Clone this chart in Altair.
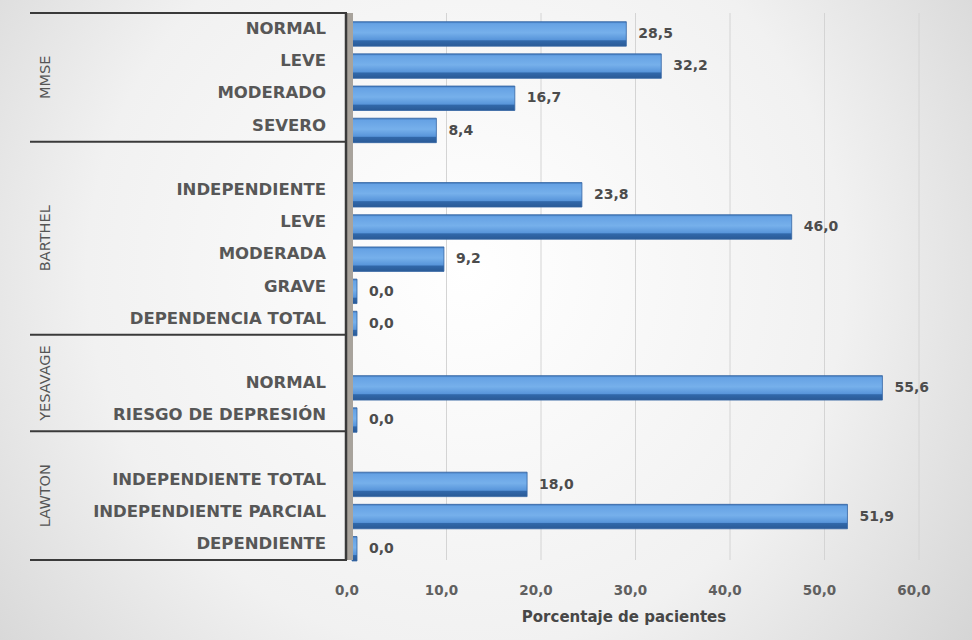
import altair as alt
import pandas as pd

groups = ["MMSE", "BARTHEL", "YESAVAGE", "LAWTON"]
categories = [
    ["NORMAL", "LEVE", "MODERADO", "SEVERO"],
    ["INDEPENDIENTE", "LEVE", "MODERADA", "GRAVE", "DEPENDENCIA TOTAL"],
    ["NORMAL", "RIESGO DE DEPRESIÓN"],
    ["INDEPENDIENTE TOTAL", "INDEPENDIENTE PARCIAL", "DEPENDIENTE"],
]
values = [
    [28.5, 32.2, 16.7, 8.4],
    [23.8, 46.0, 9.2, 0.0, 0.0],
    [55.6, 0.0],
    [18.0, 51.9, 0.0],
]
x_ticks = [0, 10, 20, 30, 40, 50, 60]
x_title = "Porcentaje de pacientes"

# build row structure (a blank row precedes every group but the first)
rows, grp_rows, bounds = [], [], []
r = 0
for gi, g in enumerate(groups):
    start = r - 0.5
    if gi > 0:
        r += 1
    for c, v in zip(categories[gi], values[gi]):
        rows.append({"group": g, "cat": c, "val": v, "row": r})
        r += 1
    end = r - 0.5
    grp_rows.append({"group": g, "center": (start + end) / 2})
    bounds.append({"b": start})
bounds.append({"b": r - 0.5})
nrows = r

df = pd.DataFrame(rows)
gdf = pd.DataFrame(grp_rows)
bdf = pd.DataFrame(bounds)
tdf = pd.DataFrame({"t": x_ticks})

W, H = 567, 547
FONT = "DejaVu Sans"

xscale = alt.Scale(domain=[0, 60], nice=False)
yscale = alt.Scale(domain=[-0.5, nrows - 0.5], reverse=True)
one = pd.DataFrame({"a": [1]})

bg = alt.Chart(one).mark_rect(
    fill={
        "gradient": "radial",
        "x1": 0.48, "y1": 0.45, "r1": 0.0,
        "x2": 0.48, "y2": 0.45, "r2": 0.78,
        "stops": [
            {"offset": 0.0, "color": "#ffffff"},
            {"offset": 0.5, "color": "#f1f1f1"},
            {"offset": 1.0, "color": "#c6c6c6"},
        ],
    }
).encode(
    x=alt.value(-352), x2=alt.value(620), y=alt.value(-13), y2=alt.value(627)
)

grid = alt.Chart(tdf).transform_filter("datum.t > 0").mark_rule(
    color="#d4d4d4", strokeWidth=1
).encode(
    x=alt.X("t:Q", scale=xscale, axis=None), y=alt.value(0), y2=alt.value(H)
)

ticklabels = alt.Chart(tdf).transform_calculate(
    lab="replace(format(datum.t, '.1f'), '.', ',')"
).mark_text(
    align="center", baseline="middle", dx=-5,
    font=FONT, fontSize=13.5, fontWeight="bold", color="#606060",
).encode(
    x=alt.X("t:Q", scale=xscale, axis=None), y=alt.value(H + 31), text="lab:N"
)

xtitle = alt.Chart(one).mark_text(
    align="center", baseline="middle",
    font=FONT, fontSize=15, fontWeight="bold", color="#474747",
    text=x_title,
).encode(x=alt.value(272), y=alt.value(H + 57))

wall = alt.Chart(one).mark_rect(fill="#a8a39c").encode(
    x=alt.value(-5), x2=alt.value(1), y=alt.value(0), y2=alt.value(H)
)

bars = alt.Chart(df).transform_calculate(
    y0="datum.row - 0.23", y1="datum.row + 0.53"
).mark_rect(
    xOffset=5,
    fill={
        "gradient": "linear",
        "x1": 0, "y1": 0, "x2": 0, "y2": 1,
        "stops": [
            {"offset": 0.0, "color": "#3b74b8"},
            {"offset": 0.08, "color": "#66a2e4"},
            {"offset": 0.45, "color": "#76b0eb"},
            {"offset": 0.74, "color": "#5895da"},
            {"offset": 0.78, "color": "#3168aa"},
            {"offset": 1.0, "color": "#2a5a96"},
        ],
    },
    stroke="#3365a3",
    strokeWidth=0.8,
).encode(
    x=alt.X("val:Q", scale=xscale, axis=None),
    x2=alt.datum(0),
    y=alt.Y("y0:Q", scale=yscale, axis=None),
    y2="y1:Q",
)

vlabels = alt.Chart(df).transform_calculate(
    lab="replace(format(datum.val, '.1f'), '.', ',')"
).mark_text(
    align="left", baseline="middle", dx=17, dy=5,
    font=FONT, fontSize=14, fontWeight="bold", color="#4c4c4c",
).encode(
    x=alt.X("val:Q", scale=xscale, axis=None),
    y=alt.Y("row:Q", scale=yscale, axis=None),
    text="lab:N",
)

clabels = alt.Chart(df).mark_text(
    align="right", baseline="middle",
    font=FONT, fontSize=16.5, fontWeight="bold", color="#575757",
).encode(
    x=alt.value(-26), y=alt.Y("row:Q", scale=yscale, axis=None), text="cat:N"
)

glabels = alt.Chart(gdf).mark_text(
    align="center", baseline="middle", angle=270,
    font=FONT, fontSize=14.5, color="#555555",
).encode(
    x=alt.value(-306), y=alt.Y("center:Q", scale=yscale, axis=None), text="group:N"
)

seps = alt.Chart(bdf).mark_rule(color="#3a3a3a", strokeWidth=2).encode(
    x=alt.value(-322), x2=alt.value(-5), y=alt.Y("b:Q", scale=yscale, axis=None)
)

vline = alt.Chart(one).mark_rule(color="#3a3a3a", strokeWidth=2.5).encode(
    x=alt.value(-6), y=alt.value(0), y2=alt.value(H)
)

chart = alt.layer(
    bg, grid, bars, wall, vline, seps, vlabels, clabels, glabels,
    ticklabels, xtitle,
).properties(
    width=W, height=H,
    autosize=alt.AutoSizeParams(type="none"),
    padding={"left": 352, "top": 13, "right": 53, "bottom": 80},
    background="#d8d8d8",
).configure_view(stroke=None)

chart.save("out.html", embed_options={"renderer": "svg", "actions": False})
